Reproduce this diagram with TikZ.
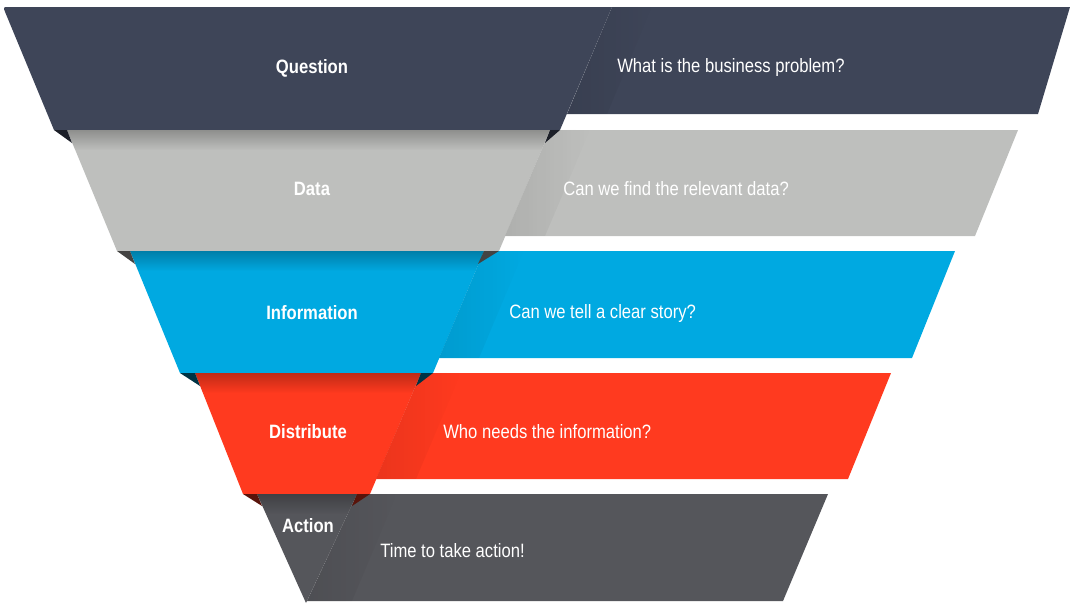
\documentclass[tikz,border=0pt]{standalone}
\usepackage{fontspec}
\setmainfont{Liberation Sans}[FakeStretch=0.86]
\usepackage{tikz}
\usetikzlibrary{fadings}

\definecolor{qnavy}{RGB}{62,69,88}
\definecolor{dgray}{RGB}{190,191,189}
\definecolor{iblue}{RGB}{0,169,225}
\definecolor{dred}{RGB}{255,58,31}
\definecolor{agray}{RGB}{85,86,91}

\tikzfading[name=fadedown, top color=transparent!0, bottom color=transparent!100]
\tikzfading[name=faderight, left color=transparent!0, right color=transparent!100]

\begin{document}
\begin{tikzpicture}[x=0.75pt,y=0.75pt,yscale=-1,xscale=1,
  lbl/.style={inner sep=0.75pt, text=white, font=\bfseries\fontsize{14.5}{17}\selectfont},
  txt/.style={anchor=west, inner sep=0.75pt, text=white, font=\fontsize{14.5}{17}\selectfont},
  topshadow/.style={fill=black, opacity=0.25, path fading=fadedown},
  foldshadow/.style={fill=black, opacity=0.08, path fading=faderight}]
\useasboundingbox (0,0) rectangle (1070,603);

%Level 1: Question
\fill [qnavy] (612,7) -- (1070,7) -- (1038,114) -- (567,114) -- cycle ;
\fill [qnavy] (54,130) -- (5.5,13) .. controls (3,7) .. (9,7) -- (612,7) -- (560,130) -- cycle ;
\fill [foldshadow] (612,7) -- (652,7) -- (607,114) -- (567,114) -- cycle ;

%Level 2: Data
\fill [dgray] (550,130) -- (1018,130) -- (975,236) -- (505,236) -- cycle ;
\fill [dgray] (67,130) -- (550,130) -- (499,251) -- (117,251) -- cycle ;
\fill [topshadow] (67,130) -- (550,130) -- (542,150) -- (75,150) -- cycle ;
\fill [foldshadow] (550,130) -- (590,130) -- (545,236) -- (505,236) -- cycle ;
\fill [qnavy!45!black] (54,130) -- (67,130) -- (72,143) -- cycle ;
\fill [qnavy!45!black] (560,130) -- (550,130) -- (545,143) -- cycle ;

%Level 3: Information
\fill [iblue] (484,251) -- (955,251) -- (912,358) -- (439,358) -- cycle ;
\fill [iblue] (130,251) -- (484,251) -- (433,373) -- (180,373) -- cycle ;
\fill [topshadow] (130,251) -- (484,251) -- (476,271) -- (138,271) -- cycle ;
\fill [foldshadow] (484,251) -- (524,251) -- (479,358) -- (439,358) -- cycle ;
\fill [dgray!35!black] (117,251) -- (130,251) -- (135,264) -- cycle ;
\fill [dgray!35!black] (499,251) -- (484,251) -- (478,264) -- cycle ;

%Level 4: Distribute
\fill [dred] (421,373) -- (891,373) -- (848,479) -- (376,479) -- cycle ;
\fill [dred] (195,373) -- (421,373) -- (370,494) -- (243,494) -- cycle ;
\fill [topshadow] (195,373) -- (421,373) -- (413,393) -- (203,393) -- cycle ;
\fill [foldshadow] (421,373) -- (461,373) -- (416,479) -- (376,479) -- cycle ;
\fill [iblue!30!black] (180,373) -- (195,373) -- (200,386) -- cycle ;
\fill [iblue!30!black] (433,373) -- (421,373) -- (416,386) -- cycle ;

%Level 5: Action
\fill [agray] (357,494) -- (828,494) -- (783,601) -- (307,601) -- cycle ;
\fill [agray] (257,494) -- (357,494) -- (306,603) -- cycle ;
\fill [topshadow] (257,494) -- (357,494) -- (348,514) -- (266,514) -- cycle ;
\fill [foldshadow] (357,494) -- (397,494) -- (352,601) -- (307,601) -- cycle ;
\fill [dred!35!black] (243,494) -- (257,494) -- (262,506) -- cycle ;
\fill [dred!35!black] (370,494) -- (357,494) -- (352,506) -- cycle ;

% Text Node
\node [lbl] (question) at (312,68) {Question};
% Text Node
\node [lbl] (data) at (312,189) {Data};
% Text Node
\node [lbl] (information) at (312,313) {Information};
% Text Node
\node [lbl] (distribute) at (308,432) {Distribute};
% Text Node
\node [lbl] (action) at (308,526) {Action};
% Text Node
\node [txt] (problem) at (616,68) {What is the business problem?};
% Text Node
\node [txt] (finddata) at (562,189) {Can we find the relevant data?};
% Text Node
\node [txt] (story) at (508,313) {Can we tell a clear story?};
% Text Node
\node [txt] (needs) at (442,432) {Who needs the information?};
% Text Node
\node [txt] (takeaction) at (379,551) {Time to take action!};

\end{tikzpicture}
\end{document}
